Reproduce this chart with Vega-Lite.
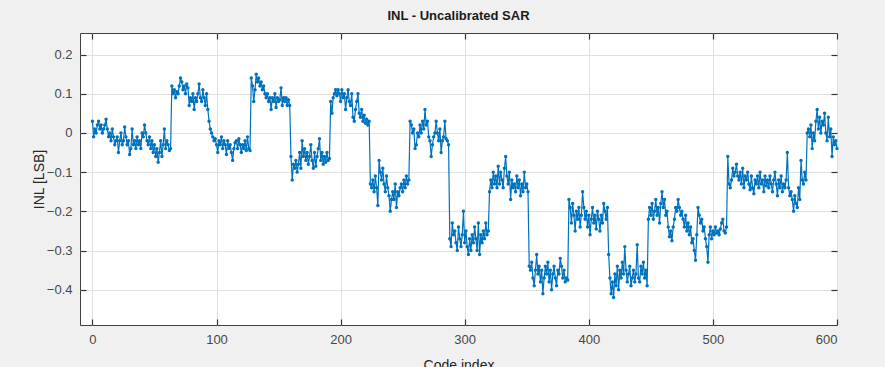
{
  "$schema": "https://vega.github.io/schema/vega-lite/v6.json",
  "width": 757,
  "height": 292,
  "autosize": "none",
  "padding": {"left": 80, "top": 33, "right": 48, "bottom": 42},
  "background": "#f0f0f0",
  "config": {
    "view": {"fill": "white", "stroke": "#404040", "strokeWidth": 1},
    "font": "Liberation Sans",
    "axis": {
      "labelFont": "Liberation Sans",
      "labelFontSize": 13,
      "labelColor": "#474747",
      "titleFont": "Liberation Sans",
      "titleFontSize": 14,
      "titleFontWeight": "normal",
      "titleColor": "#262626",
      "domain": false,
      "tickColor": "#333333",
      "tickSize": -6,
      "tickWidth": 1.2,
      "gridColor": "#e0e0e0",
      "gridWidth": 1
    }
  },
  "title": {
    "text": "INL - Uncalibrated SAR",
    "fontSize": 13,
    "fontWeight": "bold",
    "font": "Liberation Sans",
    "color": "#1a1a1a",
    "offset": 9
  },
  "data": {
    "values": [
      {"c":0,"v":0.03},{"c":1,"v":-0.01},{"c":2,"v":0.01},{"c":3,"v":0.0},{"c":4,"v":0.02},{"c":5,"v":0.03},{"c":6,"v":0.01},{"c":7,"v":0.02},
      {"c":8,"v":0.0},{"c":9,"v":0.01},{"c":10,"v":0.02},{"c":11,"v":0.035},{"c":12,"v":0.01},{"c":13,"v":-0.01},{"c":14,"v":0.0},{"c":15,"v":-0.02},
      {"c":16,"v":0.01},{"c":17,"v":-0.01},{"c":18,"v":-0.03},{"c":19,"v":-0.02},{"c":20,"v":-0.01},{"c":21,"v":-0.05},{"c":22,"v":-0.02},{"c":23,"v":0.0},
      {"c":24,"v":-0.03},{"c":25,"v":-0.02},{"c":26,"v":0.015},{"c":27,"v":-0.01},{"c":28,"v":-0.03},{"c":29,"v":-0.02},{"c":30,"v":-0.055},{"c":31,"v":-0.04},
      {"c":32,"v":0.01},{"c":33,"v":-0.03},{"c":34,"v":-0.02},{"c":35,"v":-0.04},{"c":36,"v":-0.01},{"c":37,"v":-0.03},{"c":38,"v":-0.02},{"c":39,"v":-0.04},
      {"c":40,"v":0.0},{"c":41,"v":-0.01},{"c":42,"v":0.02},{"c":43,"v":0.0},{"c":44,"v":-0.02},{"c":45,"v":-0.03},{"c":46,"v":-0.01},{"c":47,"v":-0.04},
      {"c":48,"v":-0.02},{"c":49,"v":-0.05},{"c":50,"v":-0.03},{"c":51,"v":-0.06},{"c":52,"v":-0.04},{"c":53,"v":-0.075},{"c":54,"v":-0.05},{"c":55,"v":-0.02},
      {"c":56,"v":-0.06},{"c":57,"v":-0.03},{"c":58,"v":0.01},{"c":59,"v":-0.04},{"c":60,"v":-0.02},{"c":61,"v":-0.03},{"c":62,"v":-0.045},{"c":63,"v":-0.04},
      {"c":64,"v":0.12},{"c":65,"v":0.10},{"c":66,"v":0.11},{"c":67,"v":0.09},{"c":68,"v":0.105},{"c":69,"v":0.10},{"c":70,"v":0.12},{"c":71,"v":0.14},
      {"c":72,"v":0.13},{"c":73,"v":0.11},{"c":74,"v":0.12},{"c":75,"v":0.10},{"c":76,"v":0.125},{"c":77,"v":0.115},{"c":78,"v":0.07},{"c":79,"v":0.09},
      {"c":80,"v":0.08},{"c":81,"v":0.10},{"c":82,"v":0.06},{"c":83,"v":0.09},{"c":84,"v":0.08},{"c":85,"v":0.10},{"c":86,"v":0.125},{"c":87,"v":0.09},
      {"c":88,"v":0.08},{"c":89,"v":0.11},{"c":90,"v":0.09},{"c":91,"v":0.07},{"c":92,"v":0.10},{"c":93,"v":0.06},{"c":94,"v":0.03},{"c":95,"v":0.01},
      {"c":96,"v":0.0},{"c":97,"v":-0.01},{"c":98,"v":-0.02},{"c":99,"v":-0.015},{"c":100,"v":-0.03},{"c":101,"v":-0.05},{"c":102,"v":-0.02},{"c":103,"v":-0.03},
      {"c":104,"v":-0.01},{"c":105,"v":-0.04},{"c":106,"v":-0.02},{"c":107,"v":-0.03},{"c":108,"v":-0.055},{"c":109,"v":-0.02},{"c":110,"v":-0.04},{"c":111,"v":-0.03},
      {"c":112,"v":-0.05},{"c":113,"v":-0.07},{"c":114,"v":-0.04},{"c":115,"v":-0.025},{"c":116,"v":-0.02},{"c":117,"v":-0.04},{"c":118,"v":-0.015},{"c":119,"v":-0.03},
      {"c":120,"v":-0.05},{"c":121,"v":-0.03},{"c":122,"v":-0.04},{"c":123,"v":-0.02},{"c":124,"v":-0.045},{"c":125,"v":-0.01},{"c":126,"v":-0.04},{"c":127,"v":-0.045},
      {"c":128,"v":0.14},{"c":129,"v":0.12},{"c":130,"v":0.08},{"c":131,"v":0.11},{"c":132,"v":0.15},{"c":133,"v":0.13},{"c":134,"v":0.14},{"c":135,"v":0.12},
      {"c":136,"v":0.13},{"c":137,"v":0.11},{"c":138,"v":0.12},{"c":139,"v":0.10},{"c":140,"v":0.09},{"c":141,"v":0.10},{"c":142,"v":0.08},{"c":143,"v":0.09},
      {"c":144,"v":0.06},{"c":145,"v":0.09},{"c":146,"v":0.08},{"c":147,"v":0.10},{"c":148,"v":0.065},{"c":149,"v":0.09},{"c":150,"v":0.08},{"c":151,"v":0.085},
      {"c":152,"v":0.115},{"c":153,"v":0.07},{"c":154,"v":0.09},{"c":155,"v":0.08},{"c":156,"v":0.09},{"c":157,"v":0.07},{"c":158,"v":0.085},{"c":159,"v":0.07},
      {"c":160,"v":-0.06},{"c":161,"v":-0.12},{"c":162,"v":-0.08},{"c":163,"v":-0.09},{"c":164,"v":-0.07},{"c":165,"v":-0.10},{"c":166,"v":-0.08},{"c":167,"v":-0.05},
      {"c":168,"v":-0.09},{"c":169,"v":-0.02},{"c":170,"v":-0.06},{"c":171,"v":-0.04},{"c":172,"v":-0.07},{"c":173,"v":-0.05},{"c":174,"v":-0.08},{"c":175,"v":-0.06},
      {"c":176,"v":-0.03},{"c":177,"v":-0.07},{"c":178,"v":-0.09},{"c":179,"v":-0.05},{"c":180,"v":-0.085},{"c":181,"v":-0.06},{"c":182,"v":-0.04},{"c":183,"v":-0.015},
      {"c":184,"v":-0.07},{"c":185,"v":-0.05},{"c":186,"v":-0.08},{"c":187,"v":-0.06},{"c":188,"v":-0.075},{"c":189,"v":-0.05},{"c":190,"v":-0.07},{"c":191,"v":-0.065},
      {"c":192,"v":0.08},{"c":193,"v":0.05},{"c":194,"v":0.09},{"c":195,"v":0.10},{"c":196,"v":0.11},{"c":197,"v":0.095},{"c":198,"v":0.11},{"c":199,"v":0.10},
      {"c":200,"v":0.08},{"c":201,"v":0.11},{"c":202,"v":0.09},{"c":203,"v":0.10},{"c":204,"v":0.06},{"c":205,"v":0.09},{"c":206,"v":0.11},{"c":207,"v":0.08},
      {"c":208,"v":0.07},{"c":209,"v":0.10},{"c":210,"v":0.04},{"c":211,"v":0.03},{"c":212,"v":0.06},{"c":213,"v":0.08},{"c":214,"v":0.10},{"c":215,"v":0.05},
      {"c":216,"v":0.04},{"c":217,"v":0.06},{"c":218,"v":0.03},{"c":219,"v":0.045},{"c":220,"v":0.025},{"c":221,"v":0.035},{"c":222,"v":0.02},{"c":223,"v":0.03},
      {"c":224,"v":-0.13},{"c":225,"v":-0.14},{"c":226,"v":-0.12},{"c":227,"v":-0.15},{"c":228,"v":-0.11},{"c":229,"v":-0.14},{"c":230,"v":-0.185},{"c":231,"v":-0.07},
      {"c":232,"v":-0.10},{"c":233,"v":-0.12},{"c":234,"v":-0.09},{"c":235,"v":-0.13},{"c":236,"v":-0.15},{"c":237,"v":-0.11},{"c":238,"v":-0.14},{"c":239,"v":-0.16},
      {"c":240,"v":-0.20},{"c":241,"v":-0.17},{"c":242,"v":-0.15},{"c":243,"v":-0.17},{"c":244,"v":-0.13},{"c":245,"v":-0.19},{"c":246,"v":-0.15},{"c":247,"v":-0.16},
      {"c":248,"v":-0.14},{"c":249,"v":-0.13},{"c":250,"v":-0.15},{"c":251,"v":-0.12},{"c":252,"v":-0.14},{"c":253,"v":-0.11},{"c":254,"v":-0.13},{"c":255,"v":-0.12},
      {"c":256,"v":0.03},{"c":257,"v":0.02},{"c":258,"v":0.0},{"c":259,"v":0.01},{"c":260,"v":-0.04},{"c":261,"v":-0.03},{"c":262,"v":0.0},{"c":263,"v":-0.01},
      {"c":264,"v":0.02},{"c":265,"v":0.0},{"c":266,"v":0.03},{"c":267,"v":0.01},{"c":268,"v":0.06},{"c":269,"v":0.02},{"c":270,"v":0.03},{"c":271,"v":-0.01},
      {"c":272,"v":-0.02},{"c":273,"v":-0.06},{"c":274,"v":-0.03},{"c":275,"v":-0.01},{"c":276,"v":0.0},{"c":277,"v":0.03},{"c":278,"v":0.0},{"c":279,"v":-0.02},
      {"c":280,"v":0.01},{"c":281,"v":-0.05},{"c":282,"v":-0.02},{"c":283,"v":-0.01},{"c":284,"v":0.03},{"c":285,"v":-0.015},{"c":286,"v":-0.02},{"c":287,"v":-0.03},
      {"c":288,"v":-0.27},{"c":289,"v":-0.29},{"c":290,"v":-0.23},{"c":291,"v":-0.26},{"c":292,"v":-0.25},{"c":293,"v":-0.28},{"c":294,"v":-0.30},{"c":295,"v":-0.24},
      {"c":296,"v":-0.27},{"c":297,"v":-0.29},{"c":298,"v":-0.26},{"c":299,"v":-0.20},{"c":300,"v":-0.28},{"c":301,"v":-0.25},{"c":302,"v":-0.29},{"c":303,"v":-0.31},
      {"c":304,"v":-0.27},{"c":305,"v":-0.30},{"c":306,"v":-0.26},{"c":307,"v":-0.28},{"c":308,"v":-0.24},{"c":309,"v":-0.27},{"c":310,"v":-0.30},{"c":311,"v":-0.23},
      {"c":312,"v":-0.31},{"c":313,"v":-0.26},{"c":314,"v":-0.28},{"c":315,"v":-0.25},{"c":316,"v":-0.27},{"c":317,"v":-0.23},{"c":318,"v":-0.26},{"c":319,"v":-0.25},
      {"c":320,"v":-0.15},{"c":321,"v":-0.12},{"c":322,"v":-0.14},{"c":323,"v":-0.10},{"c":324,"v":-0.13},{"c":325,"v":-0.11},{"c":326,"v":-0.14},{"c":327,"v":-0.085},
      {"c":328,"v":-0.13},{"c":329,"v":-0.10},{"c":330,"v":-0.12},{"c":331,"v":-0.14},{"c":332,"v":-0.09},{"c":333,"v":-0.06},{"c":334,"v":-0.11},{"c":335,"v":-0.13},
      {"c":336,"v":-0.10},{"c":337,"v":-0.17},{"c":338,"v":-0.12},{"c":339,"v":-0.14},{"c":340,"v":-0.13},{"c":341,"v":-0.15},{"c":342,"v":-0.11},{"c":343,"v":-0.14},
      {"c":344,"v":-0.12},{"c":345,"v":-0.16},{"c":346,"v":-0.13},{"c":347,"v":-0.15},{"c":348,"v":-0.10},{"c":349,"v":-0.14},{"c":350,"v":-0.13},{"c":351,"v":-0.15},
      {"c":352,"v":-0.34},{"c":353,"v":-0.35},{"c":354,"v":-0.33},{"c":355,"v":-0.37},{"c":356,"v":-0.39},{"c":357,"v":-0.35},{"c":358,"v":-0.31},{"c":359,"v":-0.36},
      {"c":360,"v":-0.34},{"c":361,"v":-0.38},{"c":362,"v":-0.35},{"c":363,"v":-0.41},{"c":364,"v":-0.37},{"c":365,"v":-0.34},{"c":366,"v":-0.36},{"c":367,"v":-0.33},
      {"c":368,"v":-0.38},{"c":369,"v":-0.35},{"c":370,"v":-0.40},{"c":371,"v":-0.36},{"c":372,"v":-0.34},{"c":373,"v":-0.37},{"c":374,"v":-0.39},{"c":375,"v":-0.35},
      {"c":376,"v":-0.36},{"c":377,"v":-0.32},{"c":378,"v":-0.34},{"c":379,"v":-0.37},{"c":380,"v":-0.35},{"c":381,"v":-0.38},{"c":382,"v":-0.37},{"c":383,"v":-0.375},
      {"c":384,"v":-0.17},{"c":385,"v":-0.19},{"c":386,"v":-0.23},{"c":387,"v":-0.18},{"c":388,"v":-0.21},{"c":389,"v":-0.25},{"c":390,"v":-0.20},{"c":391,"v":-0.22},
      {"c":392,"v":-0.19},{"c":393,"v":-0.24},{"c":394,"v":-0.21},{"c":395,"v":-0.15},{"c":396,"v":-0.19},{"c":397,"v":-0.22},{"c":398,"v":-0.20},{"c":399,"v":-0.24},
      {"c":400,"v":-0.21},{"c":401,"v":-0.26},{"c":402,"v":-0.22},{"c":403,"v":-0.19},{"c":404,"v":-0.23},{"c":405,"v":-0.21},{"c":406,"v":-0.245},{"c":407,"v":-0.20},
      {"c":408,"v":-0.22},{"c":409,"v":-0.25},{"c":410,"v":-0.21},{"c":411,"v":-0.23},{"c":412,"v":-0.18},{"c":413,"v":-0.20},{"c":414,"v":-0.22},{"c":415,"v":-0.19},
      {"c":416,"v":-0.31},{"c":417,"v":-0.37},{"c":418,"v":-0.41},{"c":419,"v":-0.38},{"c":420,"v":-0.42},{"c":421,"v":-0.36},{"c":422,"v":-0.39},{"c":423,"v":-0.34},
      {"c":424,"v":-0.40},{"c":425,"v":-0.35},{"c":426,"v":-0.37},{"c":427,"v":-0.33},{"c":428,"v":-0.36},{"c":429,"v":-0.29},{"c":430,"v":-0.35},{"c":431,"v":-0.38},
      {"c":432,"v":-0.36},{"c":433,"v":-0.34},{"c":434,"v":-0.39},{"c":435,"v":-0.37},{"c":436,"v":-0.35},{"c":437,"v":-0.38},{"c":438,"v":-0.36},{"c":439,"v":-0.285},
      {"c":440,"v":-0.37},{"c":441,"v":-0.38},{"c":442,"v":-0.34},{"c":443,"v":-0.36},{"c":444,"v":-0.33},{"c":445,"v":-0.37},{"c":446,"v":-0.35},{"c":447,"v":-0.39},
      {"c":448,"v":-0.22},{"c":449,"v":-0.19},{"c":450,"v":-0.21},{"c":451,"v":-0.18},{"c":452,"v":-0.22},{"c":453,"v":-0.20},{"c":454,"v":-0.17},{"c":455,"v":-0.21},
      {"c":456,"v":-0.19},{"c":457,"v":-0.23},{"c":458,"v":-0.18},{"c":459,"v":-0.15},{"c":460,"v":-0.19},{"c":461,"v":-0.17},{"c":462,"v":-0.21},{"c":463,"v":-0.20},
      {"c":464,"v":-0.24},{"c":465,"v":-0.265},{"c":466,"v":-0.25},{"c":467,"v":-0.275},{"c":468,"v":-0.24},{"c":469,"v":-0.22},{"c":470,"v":-0.19},{"c":471,"v":-0.20},
      {"c":472,"v":-0.17},{"c":473,"v":-0.19},{"c":474,"v":-0.21},{"c":475,"v":-0.20},{"c":476,"v":-0.22},{"c":477,"v":-0.24},{"c":478,"v":-0.21},{"c":479,"v":-0.25},
      {"c":480,"v":-0.23},{"c":481,"v":-0.26},{"c":482,"v":-0.24},{"c":483,"v":-0.28},{"c":484,"v":-0.27},{"c":485,"v":-0.30},{"c":486,"v":-0.325},{"c":487,"v":-0.26},
      {"c":488,"v":-0.19},{"c":489,"v":-0.21},{"c":490,"v":-0.23},{"c":491,"v":-0.22},{"c":492,"v":-0.25},{"c":493,"v":-0.24},{"c":494,"v":-0.27},{"c":495,"v":-0.29},
      {"c":496,"v":-0.33},{"c":497,"v":-0.26},{"c":498,"v":-0.24},{"c":499,"v":-0.27},{"c":500,"v":-0.25},{"c":501,"v":-0.26},{"c":502,"v":-0.24},{"c":503,"v":-0.255},
      {"c":504,"v":-0.25},{"c":505,"v":-0.26},{"c":506,"v":-0.245},{"c":507,"v":-0.23},{"c":508,"v":-0.22},{"c":509,"v":-0.25},{"c":510,"v":-0.255},{"c":511,"v":-0.24},
      {"c":512,"v":-0.06},{"c":513,"v":-0.13},{"c":514,"v":-0.14},{"c":515,"v":-0.12},{"c":516,"v":-0.09},{"c":517,"v":-0.11},{"c":518,"v":-0.10},{"c":519,"v":-0.08},
      {"c":520,"v":-0.11},{"c":521,"v":-0.12},{"c":522,"v":-0.10},{"c":523,"v":-0.13},{"c":524,"v":-0.09},{"c":525,"v":-0.14},{"c":526,"v":-0.11},{"c":527,"v":-0.12},
      {"c":528,"v":-0.10},{"c":529,"v":-0.13},{"c":530,"v":-0.145},{"c":531,"v":-0.11},{"c":532,"v":-0.14},{"c":533,"v":-0.155},{"c":534,"v":-0.12},{"c":535,"v":-0.13},
      {"c":536,"v":-0.11},{"c":537,"v":-0.14},{"c":538,"v":-0.10},{"c":539,"v":-0.13},{"c":540,"v":-0.12},{"c":541,"v":-0.15},{"c":542,"v":-0.11},{"c":543,"v":-0.135},
      {"c":544,"v":-0.12},{"c":545,"v":-0.14},{"c":546,"v":-0.11},{"c":547,"v":-0.13},{"c":548,"v":-0.15},{"c":549,"v":-0.12},{"c":550,"v":-0.10},{"c":551,"v":-0.13},
      {"c":552,"v":-0.16},{"c":553,"v":-0.12},{"c":554,"v":-0.14},{"c":555,"v":-0.11},{"c":556,"v":-0.15},{"c":557,"v":-0.13},{"c":558,"v":-0.14},{"c":559,"v":-0.12},
      {"c":560,"v":-0.05},{"c":561,"v":-0.14},{"c":562,"v":-0.16},{"c":563,"v":-0.15},{"c":564,"v":-0.17},{"c":565,"v":-0.20},{"c":566,"v":-0.16},{"c":567,"v":-0.18},
      {"c":568,"v":-0.19},{"c":569,"v":-0.14},{"c":570,"v":-0.17},{"c":571,"v":-0.07},{"c":572,"v":-0.12},{"c":573,"v":-0.13},{"c":574,"v":-0.10},{"c":575,"v":-0.12},
      {"c":576,"v":0.0},{"c":577,"v":0.01},{"c":578,"v":-0.01},{"c":579,"v":0.02},{"c":580,"v":-0.04},{"c":581,"v":0.0},{"c":582,"v":-0.02},{"c":583,"v":0.03},
      {"c":584,"v":0.06},{"c":585,"v":0.01},{"c":586,"v":0.04},{"c":587,"v":0.0},{"c":588,"v":0.03},{"c":589,"v":0.02},{"c":590,"v":0.05},{"c":591,"v":0.0},
      {"c":592,"v":-0.02},{"c":593,"v":0.04},{"c":594,"v":-0.01},{"c":595,"v":0.01},{"c":596,"v":-0.06},{"c":597,"v":-0.01},{"c":598,"v":-0.03},{"c":599,"v":-0.02},
      {"c":600,"v":-0.04}
    ]
  },
  "layer": [
    {
      "mark": {
        "type": "line",
        "color": "#0072BD",
        "strokeWidth": 1.2,
        "point": {"filled": true, "size": 12, "color": "#0072BD"}
      },
      "encoding": {
        "x": {
          "field": "c",
          "type": "quantitative",
          "scale": {"domain": [-10, 600], "nice": false, "zero": false},
          "axis": {
            "orient": "bottom",
            "title": "Code index",
            "values": [0, 100, 200, 300, 400, 500, 600],
            "labelPadding": 14,
            "titlePadding": 12,
            "grid": true
          }
        },
        "y": {
          "field": "v",
          "type": "quantitative",
          "scale": {"domain": [-0.49, 0.255], "nice": false, "zero": false},
          "axis": {
            "orient": "left",
            "title": "INL [LSB]",
            "values": [-0.4, -0.3, -0.2, -0.1, 0, 0.1, 0.2],
            "format": "~g",
            "labelPadding": 14,
            "titlePadding": 0,
            "grid": true
          }
        }
      }
    },
    {
      "mark": {"type": "line", "opacity": 0},
      "encoding": {
        "x": {
          "field": "c",
          "type": "quantitative",
          "axis": {
            "orient": "top",
            "title": null,
            "labels": false,
            "grid": false,
            "values": [0, 100, 200, 300, 400, 500, 600]
          }
        },
        "y": {
          "field": "v",
          "type": "quantitative",
          "axis": {
            "orient": "right",
            "title": null,
            "labels": false,
            "grid": false,
            "values": [-0.4, -0.3, -0.2, -0.1, 0, 0.1, 0.2]
          }
        }
      }
    }
  ],
  "resolve": {"axis": {"x": "independent", "y": "independent"}}
}
